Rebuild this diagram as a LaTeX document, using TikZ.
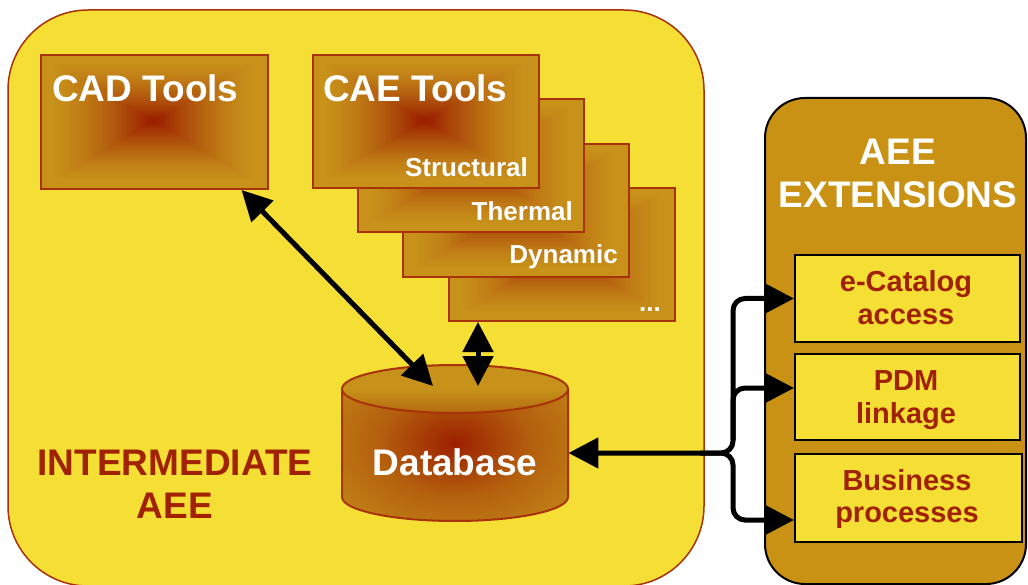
\documentclass[tikz,border=0pt]{standalone}
\usepackage{fontspec}
\setmainfont{Liberation Sans}
\usetikzlibrary{arrows.meta}
\definecolor{bgyellow}{HTML}{F6DF34}
\definecolor{panelgold}{HTML}{C99214}
\definecolor{boxgold}{HTML}{C8921A}
\definecolor{boxmid}{HTML}{B4600E}
\definecolor{boxred}{HTML}{9C2000}
\definecolor{darkred}{HTML}{A02200}
\definecolor{edgered}{HTML}{A8320A}
\definecolor{ellbot}{HTML}{B26A10}
\pgfdeclareradialshading{cylshade}{\pgfpoint{0bp}{0bp}}{color(0bp)=(boxred); color(17bp)=(boxmid); color(40bp)=(boxgold); color(50bp)=(boxgold)}
% rectangular (pyramid) gradient: centre x, centre y, half width, half height
\newcommand{\pyrshade}[4]{%
  \foreach \k in {0,...,44}{%
    \pgfmathsetmacro{\f}{\k/45}%
    \pgfmathsetmacro{\q}{max(0,(\f-0.06)/0.9)}%
    \pgfmathsetmacro{\p}{min(100,100*\q*sqrt(\q))}%
    \fill[boxred!\p!boxgold] ({#1-#3*(1-\f)},{#2-#4*(1-\f)}) rectangle ({#1+#3*(1-\f)},{#2+#4*(1-\f)});
  }}
\begin{document}
\begin{tikzpicture}[x=1pt,y=-1pt,
  toolbox/.style={draw=edgered, line width=2pt, inner sep=0pt,
    minimum width=226pt, minimum height=133pt, anchor=north west},
  extbox/.style={draw=black, line width=2pt, fill=bgyellow, inner sep=0pt, anchor=north west},
  bigw/.style={text=white, font=\fontsize{37}{40}\selectfont\bfseries, inner sep=0pt},
  smallw/.style={text=white, font=\fontsize{26}{30}\selectfont\bfseries, inner sep=0pt, anchor=base east},
  redtxt/.style={text=darkred, font=\fontsize{37}{40}\selectfont\bfseries, inner sep=0pt, anchor=base},
  exttxt/.style={text=darkred, font=\fontsize{29}{32}\selectfont\bfseries, inner sep=0pt, anchor=base},
  arr/.style={line width=5pt, draw=black},
  tip/.tip={Triangle[length=30pt,width=30pt]}
]
\useasboundingbox (0,0) rectangle (1028,585);
\fill[white] (0,0) rectangle (1028,585);

% intermediate AEE panel
\draw[fill=bgyellow, draw=edgered, line width=1.5pt, rounded corners=80pt] (8,10) rectangle (704,586);

% extensions panel
\draw[fill=panelgold, draw=black, line width=2pt, rounded corners=40pt] (765,98) rectangle (1026,584);

% tool boxes (back to front)
\pyrshade{561}{253.5}{113}{66.5}
\node[toolbox] (dots) at (448,187) {};
\pyrshade{515}{209.5}{113}{66.5}
\node[toolbox] (dyn) at (402,143) {};
\pyrshade{470}{164.5}{113}{66.5}
\node[toolbox] (therm) at (357,98) {};
\pyrshade{425}{120.5}{113}{66.5}
\node[toolbox] (cae) at (312,54) {};
\pyrshade{153.5}{121}{113.5}{67}
\node[toolbox, minimum width=227pt, minimum height=134pt] (cad) at (40,54) {};

\node[bigw, anchor=base west] (cadtxt) at (52,102) {CAD Tools};
\node[bigw, anchor=base west] (caetxt) at (323,102) {CAE Tools};
\node[smallw] (structtxt) at (528,177) {Structural};
\node[smallw] (thermtxt) at (573,221) {Thermal};
\node[smallw] (dyntxt) at (618,264) {Dynamic};
\node[smallw] (dotstxt) at (661,312) {...};

% database cylinder
\node[inner sep=0pt, minimum width=226pt, minimum height=155pt, anchor=north west] (db) at (342,365) {};
\shade[shading=cylshade] (568,389) -- (568,497) arc[start angle=0, end angle=180, x radius=113, y radius=24]
  -- (342,389) arc[start angle=180, end angle=360, x radius=113, y radius=24] -- cycle;
\draw[draw=edgered, line width=2pt] (568,389) -- (568,497) arc[start angle=0, end angle=180, x radius=113, y radius=24]
  -- (342,389);
\draw[draw=edgered, line width=2pt, top color=boxgold, bottom color=ellbot, middle color=boxgold] (455,389) ellipse[x radius=113, y radius=24];
\node[bigw, anchor=base] (dbtxt) at (455,475) {Database};

% labels
\node[redtxt] (int1) at (175,475) {INTERMEDIATE};
\node[redtxt] (int2) at (175,518) {AEE};
\node[bigw, anchor=base] (aee1) at (898,165) {AEE};
\node[bigw, anchor=base] (aee2) at (898,208) {EXTENSIONS};

% extension boxes
\node[extbox, minimum width=225pt, minimum height=87pt] (e1) at (794,254) {};
\node[extbox, minimum width=225pt, minimum height=86pt] (e2) at (794,353) {};
\node[extbox, minimum width=227pt, minimum height=88pt] (e3) at (794,453) {};
\node[exttxt] (e1a) at (906,292) {e-Catalog};
\node[exttxt] (e1b) at (906,324) {access};
\node[exttxt] (e2a) at (906,390) {PDM};
\node[exttxt] (e2b) at (906,423) {linkage};
\node[exttxt] (e3a) at (907,490) {Business};
\node[exttxt] (e3b) at (907,522) {processes};

% connectors
\coordinate (dbin1) at (433,386);
\coordinate (dbin2) at (478,386);
\draw[arr, {tip}-{tip}] (cad.-38.4) -- (dbin1);
\draw[arr, {tip}-{tip}] (dbin2 |- dots.south) -- (dbin2);

\coordinate (j) at (733,453);
\coordinate (jl) at (700,453);
\coordinate (jm) at (733,440);
\coordinate (t1) at (e1.west);
\coordinate (t2) at ([yshift=9pt]e2.west);
\coordinate (t3) at ([yshift=-22pt]e3.west);
\draw[arr, {tip}-{tip}, rounded corners=12pt] (db.east |- j) -- (j) -- (j |- t1) -- (t1);
\draw[arr, -{tip}, rounded corners=12pt] (jl) -- (j) -- (j |- t3) -- (t3);
\draw[arr, -{tip}, rounded corners=12pt] (jm) -- (jm |- t2) -- (t2);
\end{tikzpicture}
\end{document}
